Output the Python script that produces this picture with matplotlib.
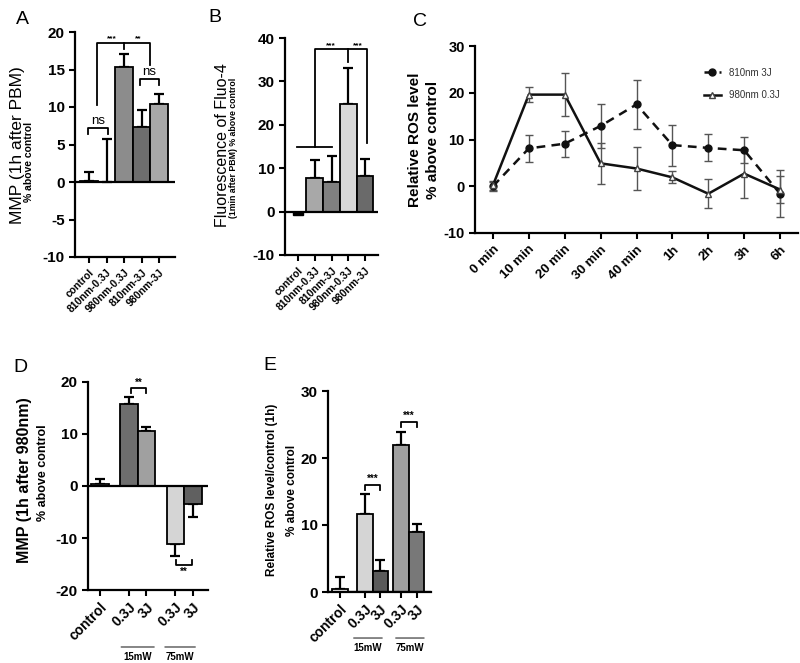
import matplotlib
matplotlib.use('Agg')
import matplotlib.pyplot as plt
import numpy as np

plt.rcParams['font.family'] = ['Liberation Sans', 'DejaVu Sans']
plt.rcParams['axes.unicode_minus'] = False

# panel A: MMP 1h after PBM
a_labels = ['control', '810nm-0.3J', '980nm-0.3J', '810nm-3J', '980nm-3J']
a_vals = [0.2, 0.0, 15.4, 7.4, 10.4]
a_err = [1.1, 5.7, 1.7, 2.2, 1.4]

# panel B: Fluo-4 fluorescence
b_labels = ['control', '810nm-0.3J', '810nm-3J', '980nm-0.3J', '980nm-3J']
b_vals = [-0.8, 7.7, 6.8, 24.8, 8.1]
b_err = [0.3, 4.1, 6.1, 8.3, 4.0]

# panel C: ROS time course
c_times = ['0 min', '10 min', '20 min', '30 min', '40 min', '1h', '2h', '3h', '6h']
c_810 = [0.0, 8.1, 9.1, 12.9, 17.5, 8.8, 8.2, 7.7, -1.6]
c_810_err = [1.0, 2.9, 2.8, 4.8, 5.3, 4.4, 2.9, 2.8, 5.0]
c_980 = [0.2, 19.6, 19.6, 4.9, 3.8, 1.9, -1.6, 2.7, -0.7]
c_980_err = [1.0, 1.6, 4.6, 4.4, 4.5, 1.3, 3.1, 5.3, 2.9]

# panel D: MMP 1h after 980nm
d_labels = ['control', '0.3J', '3J', '0.3J', '3J']
d_vals = [0.3, 15.8, 10.5, -11.1, -3.5]
d_err = [1.0, 1.3, 0.8, 2.4, 2.5]

# panel E: ROS 1h
e_labels = ['control', '0.3J', '3J', '0.3J', '3J']
e_vals = [0.4, 11.6, 3.2, 21.9, 9.0]
e_err = [1.8, 3.0, 1.6, 2.0, 1.1]

groups = ['15mW', '75mW']

W, H = 800, 663
fig = plt.figure(figsize=(8, 6.63), dpi=100)


def px_axes(left, top, right, bottom):
    return fig.add_axes([left / W, 1 - bottom / H, (right - left) / W, (bottom - top) / H])


def fig_text(x, y, s, **kw):
    fig.text(x / W, 1 - y / H, s, **kw)


def style(ax, ysize=10.5):
    for s in ['top', 'right']:
        ax.spines[s].set_visible(False)
    for s in ['left', 'bottom']:
        ax.spines[s].set_linewidth(1.6)
    ax.tick_params(width=1.5, length=4, direction='out')
    for t in ax.get_yticklabels():
        t.set_fontweight('bold')
        t.set_fontsize(ysize)


def bars(ax, x, vals, err, colors, width=1.0):
    ax.bar(x, vals, width=width, color=colors, edgecolor='black', linewidth=1.3, zorder=2)
    lo = [e if v < 0 else 0 for v, e in zip(vals, err)]
    hi = [e if v >= 0 else 0 for v, e in zip(vals, err)]
    ax.errorbar(x, vals, yerr=[lo, hi], fmt='none', ecolor='black', elinewidth=1.6,
                capsize=3.5, capthick=1.6, zorder=1)
    ax.axhline(0, color='black', lw=1.6, zorder=3)


def bracket(ax, x0, x1, y, drop, label, fs=6):
    ax.plot([x0, x0, x1, x1], [y - drop, y, y, y - drop], color='black', lw=1.3, clip_on=False)
    ax.text((x0 + x1) / 2, y + 0.15 * drop, label, ha='center', va='bottom',
            fontsize=fs, fontweight='bold' if '*' in label else 'normal', clip_on=False)


def xlabels(ax, x, labels, size):
    ax.set_xticks(x)
    ax.set_xticklabels(labels, rotation=45, ha='right', rotation_mode='anchor',
                       fontsize=size, fontweight='bold')


# ---- A ----
ax = px_axes(75, 32, 175, 257)
xa = np.arange(5)
bars(ax, xa, a_vals, a_err, ['white', 'white', '#8c8c8c', '#6e6e6e', '#a8a8a8'])
ax.set_xlim(-0.8, 4.9)
ax.set_ylim(-10, 20)
ax.set_yticks([-10, -5, 0, 5, 10, 15, 20])
xlabels(ax, xa, a_labels, 7.5)
style(ax, 11)
ax.plot([0.45, 0.45, 3.5, 3.5], [10.3, 18.5, 18.5, 15.6], color='black', lw=1.3)
ax.plot([2.0, 2.0], [18.5, 17.7], color='black', lw=1.3)
ax.text(1.3, 18.6, '***', ha='center', va='bottom', fontsize=6, fontweight='bold')
ax.text(2.8, 18.6, '**', ha='center', va='bottom', fontsize=6, fontweight='bold')
bracket(ax, -0.05, 1.1, 7.2, 0.8, 'ns', fs=9.5)
bracket(ax, 2.9, 4.0, 13.7, 0.8, 'ns', fs=9.5)
fig_text(18, 145, 'MMP (1h after PBM)', rotation=90, ha='center', va='center', fontsize=12.5)
fig_text(29, 162, '% above control', rotation=90, ha='center', va='center', fontsize=7.5,
         fontweight='bold')
fig_text(22, 20, 'A', ha='center', va='center', fontsize=14)

# ---- B ----
ax = px_axes(285, 38, 378, 255)
xb = np.arange(5)
ax.bar(xb[:1], b_vals[:1], width=0.55, color='black', edgecolor='black', zorder=2)
bars(ax, xb[1:], b_vals[1:], b_err[1:], ['#a8a8a8', '#808080', '#d8d8d8', '#6a6a6a'])
ax.set_xlim(-0.78, 4.78)
ax.set_ylim(-10, 40)
ax.set_yticks([-10, 0, 10, 20, 30, 40])
xlabels(ax, xb, b_labels, 7.5)
style(ax, 11)
ax.plot([-0.05, 2.0], [15.0, 15.0], color='black', lw=1.3)
ax.plot([1.0, 1.0, 4.1, 4.1], [15.0, 37.4, 37.4, 15.7], color='black', lw=1.3)
ax.plot([3.0, 3.0], [37.4, 34.4], color='black', lw=1.3)
ax.text(1.95, 37.5, '***', ha='center', va='bottom', fontsize=6, fontweight='bold')
ax.text(3.55, 37.5, '***', ha='center', va='bottom', fontsize=6, fontweight='bold')
fig_text(222, 145, 'Fluorescence of Fluo-4', rotation=90, ha='center', va='center',
         fontsize=11.5)
fig_text(234, 148, '(1min after PBM) % above control', rotation=90, ha='center',
         va='center', fontsize=6.3, fontweight='bold')
fig_text(215, 18, 'B', ha='center', va='center', fontsize=14)

# ---- C ----
ax = px_axes(475, 46, 798, 233)
xc = np.arange(len(c_times))
ax.errorbar(xc, c_810, yerr=c_810_err, fmt='none', ecolor='#555555', elinewidth=1.0,
            capsize=3, capthick=1.0)
ax.errorbar(xc, c_980, yerr=c_980_err, fmt='none', ecolor='#555555', elinewidth=1.0,
            capsize=3, capthick=1.0)
ax.plot(xc, c_810, color='#111111', lw=1.8, ls=(0, (3.5, 2.5)), marker='o', ms=5,
        mfc='#111111', mec='#111111', label='810nm 3J')
ax.plot(xc, c_980, color='#111111', lw=1.8, marker='^', ms=5, mfc='white', mec='#444444',
        label='980nm 0.3J')
ax.set_xlim(-0.5, 8.5)
ax.set_ylim(-10, 30)
ax.set_yticks([-10, 0, 10, 20, 30])
xlabels(ax, xc, c_times, 9.5)
style(ax, 10.5)
leg = ax.legend(loc='upper right', bbox_to_anchor=(0.97, 0.93), frameon=False, fontsize=7,
                handlelength=1.8, labelspacing=1.3)
for t in leg.get_texts():
    t.set_color('#333333')
fig_text(415, 140, 'Relative ROS level', rotation=90, ha='center', va='center',
         fontsize=11, fontweight='bold')
fig_text(433, 140, '% above control', rotation=90, ha='center', va='center', fontsize=11,
         fontweight='bold')
fig_text(420, 22, 'C', ha='center', va='center', fontsize=14)

# ---- D ----
ax = px_axes(88, 382, 208, 590)
xd = np.array([0, 1.65, 2.65, 4.3, 5.3])
bars(ax, xd, d_vals, d_err, ['white', '#6e6e6e', '#a0a0a0', '#d5d5d5', '#606060'])
ax.set_xlim(-0.69, 6.17)
ax.set_ylim(-20, 20)
ax.set_yticks([-20, -10, 0, 10, 20])
xlabels(ax, xd, d_labels, 10)
style(ax, 11)
bracket(ax, 1.75, 2.65, 18.8, 0.9, '**', fs=7)
ax.plot([4.35, 4.35, 5.25, 5.25], [-14.2, -15.2, -15.2, -14.2], color='black', lw=1.3)
ax.text(4.8, -15.6, '**', ha='center', va='top', fontsize=7, fontweight='bold')
for (x0, x1), g in zip([(1.05, 3.25), (3.55, 5.6)], groups):
    ax.annotate('', xy=(x0, -0.274), xytext=(x1, -0.274), xycoords=('data', 'axes fraction'),
                arrowprops=dict(arrowstyle='-', color='#555555', lw=1.0), annotation_clip=False)
    ax.text((x0 + x1) / 2, -0.3, g, transform=ax.get_xaxis_transform(), ha='center', va='top',
            fontsize=7, fontweight='bold')
fig_text(25, 480, 'MMP (1h after 980nm)', rotation=90, ha='center', va='center',
         fontsize=11.5, fontweight='bold')
fig_text(43, 473, '% above control', rotation=90, ha='center', va='center', fontsize=9,
         fontweight='bold')
fig_text(20, 368, 'D', ha='center', va='center', fontsize=14)

# ---- E ----
ax = px_axes(328, 391, 431, 592)
xe = np.array([0, 1.6, 2.6, 3.95, 4.95])
bars(ax, xe, e_vals, e_err, ['white', '#d5d5d5', '#5a5a5a', '#a0a0a0', '#787878'])
ax.set_xlim(-0.77, 5.87)
ax.set_ylim(0, 30)
ax.set_yticks([0, 10, 20, 30])
xlabels(ax, xe, e_labels, 10)
style(ax, 11)
bracket(ax, 1.6, 2.6, 16.0, 0.8, '***', fs=7)
bracket(ax, 3.95, 4.95, 25.4, 0.8, '***', fs=7)
for (x0, x1), g in zip([(0.71, 2.9), (3.42, 5.6)], groups):
    ax.annotate('', xy=(x0, -0.229), xytext=(x1, -0.229), xycoords=('data', 'axes fraction'),
                arrowprops=dict(arrowstyle='-', color='#555555', lw=1.0), annotation_clip=False)
    ax.text((x0 + x1) / 2, -0.255, g, transform=ax.get_xaxis_transform(), ha='center',
            va='top', fontsize=7, fontweight='bold')
fig_text(272, 490, 'Relative ROS level/control (1h)', rotation=90, ha='center', va='center',
         fontsize=8.5, fontweight='bold')
fig_text(292, 490, '% above control', rotation=90, ha='center', va='center', fontsize=8.5,
         fontweight='bold')
fig_text(270, 366, 'E', ha='center', va='center', fontsize=14)

fig.savefig('out.png', dpi=100)
